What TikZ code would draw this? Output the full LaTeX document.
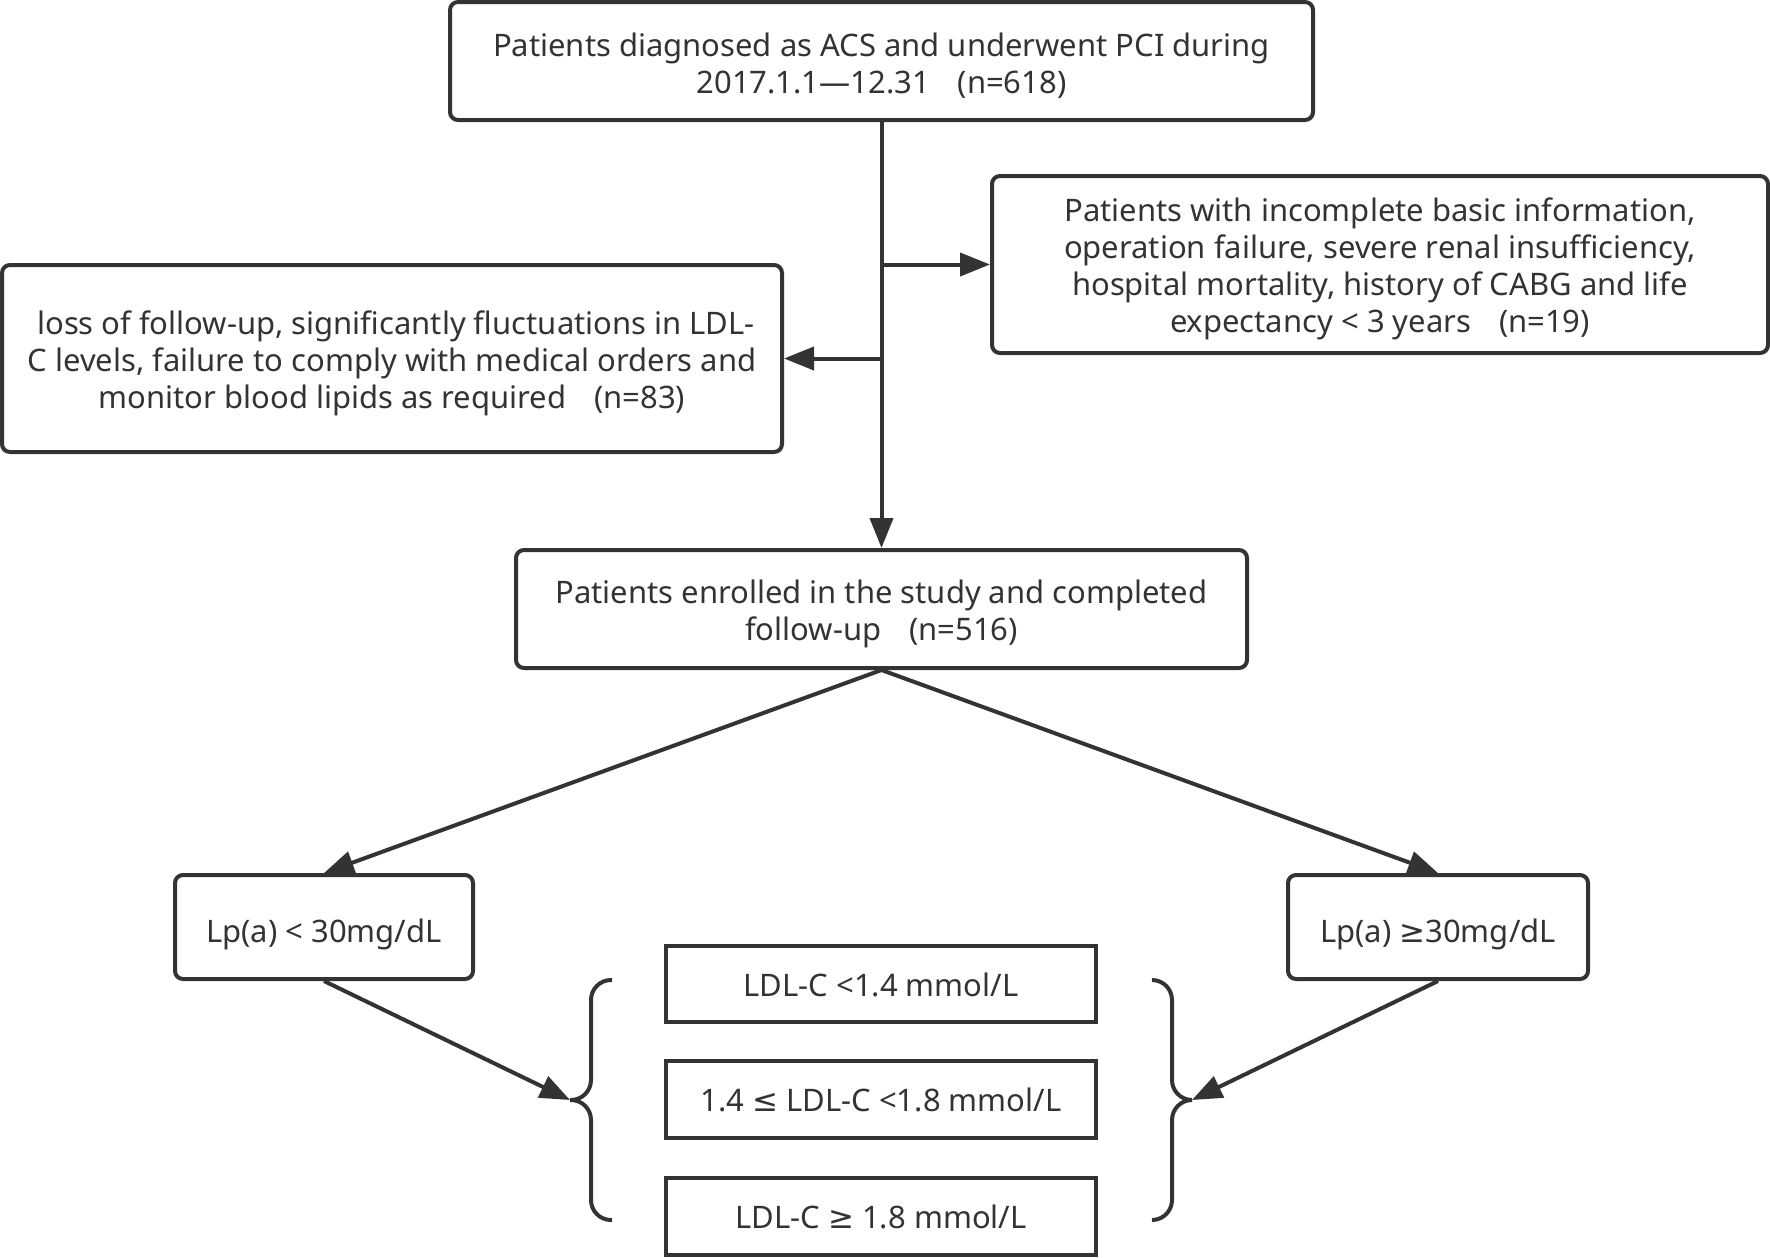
\documentclass[tikz,border=0pt]{standalone}
\usepackage{fontspec}
\setmainfont{Noto Sans}
\newfontfamily\symfont{DejaVu Sans}
\usetikzlibrary{arrows.meta}
\definecolor{ink}{HTML}{333333}
\newcommand{\geqsym}{{\symfont ≥}}
\newcommand{\leqsym}{{\symfont ≤}}
\newcommand{\lowered}[2]{\raisebox{-#1}[\height][\depth]{\begin{tabular}{@{}c@{}}#2\end{tabular}}}
\begin{document}
\begin{tikzpicture}[x=1pt,y=-1pt,
  box/.style={draw=ink, line width=4pt, rounded corners=8pt, align=center, inner sep=0pt, text=ink, font=\fontsize{31}{37}\selectfont},
  sbox/.style={box, rounded corners=0pt},
  conn/.style={draw=ink, line width=4pt, -{Triangle[length=30pt,width=23pt]}},
  bracepath/.style={draw=ink, line width=4pt, rounded corners=20pt}]
\useasboundingbox (0,0) rectangle (1770,1258);
\node[box, minimum width=863pt, minimum height=118pt] (top) at (881.5,61)
  {\lowered{7pt}{Patients diagnosed as ACS and underwent PCI during\\2017.1.1—12.31\hspace{0.9em}(n=618)}};
\node[box, minimum width=776pt, minimum height=177pt] (excr) at (1380,264.5)
  {\lowered{5pt}{Patients with incomplete basic information,\\operation failure, severe renal insufficiency,\\hospital mortality, history of CABG and life\\expectancy < 3 years\hspace{0.9em}(n=19)}};
\node[box, minimum width=780pt, minimum height=187pt] (excl) at (392,358.5)
  {\lowered{6pt}{\ loss of follow-up, significantly fluctuations in LDL-\\C levels, failure to comply with medical orders and\\monitor blood lipids as required\hspace{0.9em}(n=83)}};
\node[box, minimum width=731pt, minimum height=118pt] (enr) at (881.5,609)
  {\lowered{6pt}{Patients enrolled in the study and completed\\follow-up\hspace{0.9em}(n=516)}};
\node[box, minimum width=298pt, minimum height=104pt] (lpa) at (324,927) {\lowered{8pt}{Lp(a) < 30mg/dL}};
\node[box, minimum width=300pt, minimum height=104pt] (lpb) at (1438,927) {\lowered{8pt}{Lp(a) \geqsym30mg/dL}};
\node[sbox, minimum width=430pt, minimum height=76pt] (ldla) at (881,984) {\lowered{5pt}{LDL-C <1.4 mmol/L}};
\node[sbox, minimum width=430pt, minimum height=77pt] (ldlb) at (881,1099.5) {\lowered{5pt}{1.4 \leqsym{} LDL-C <1.8 mmol/L}};
\node[sbox, minimum width=430pt, minimum height=77pt] (ldlc) at (881,1216.5) {\lowered{5pt}{LDL-C \geqsym{} 1.8 mmol/L}};
% main flow
\draw[conn] (top.south) -- (enr.north);
\draw[conn] (top.south |- excr.west) -- (excr.west);
\draw[conn] (top.south |- excl.east) -- (excl.east);
\draw[conn] (enr.south) -- (lpa.north);
\draw[conn] (enr.south) -- (lpb.north);
% braces
\coordinate (bl) at (570,1100);
\coordinate (br) at (1192,1100);
\draw[bracepath] (612,980) -- (591,980) -- (591,1100) -- (bl);
\draw[bracepath] (bl) -- (591,1100) -- (591,1220) -- (612,1220);
\draw[bracepath] (1152,980) -- (1172,980) -- (1172,1100) -- (br);
\draw[bracepath] (br) -- (1172,1100) -- (1172,1220) -- (1152,1220);
\draw[conn] (lpa.south) -- (bl);
\draw[conn] (lpb.south) -- (br);
\end{tikzpicture}
\end{document}
